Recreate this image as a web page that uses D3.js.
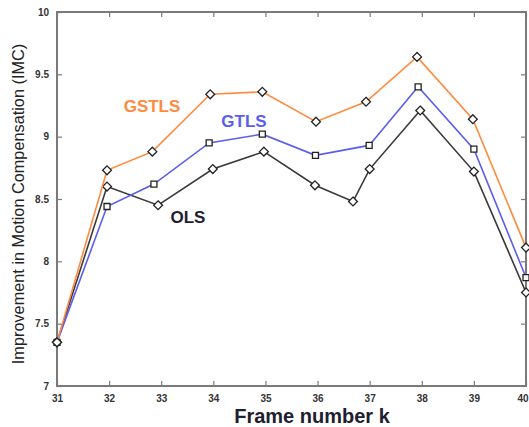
<!DOCTYPE html>
<html>
<head>
<meta charset="utf-8">
<script src="https://cdn.jsdelivr.net/npm/d3@7"></script>
<style>
  body { margin: 0; background: #fff; }
  text { font-family: "Liberation Sans", Arial, sans-serif; }
</style>
</head>
<body>
<div id="chart"></div>
<script>
// data
const xTicks = [31, 32, 33, 34, 35, 36, 37, 38, 39, 40]
const yTicks = [7, 7.5, 8, 8.5, 9, 9.5, 10]

const gstlsX = [31, 31.96, 32.83, 33.94, 34.94, 35.97, 36.93, 37.91, 38.98, 40]
const gstlsY = [7.35, 8.73, 8.88, 9.34, 9.36, 9.12, 9.28, 9.64, 9.14, 8.11]

const gtlsX = [31, 31.96, 32.86, 33.92, 34.94, 35.96, 36.99, 37.93, 39, 40]
const gtlsY = [7.35, 8.44, 8.62, 8.95, 9.02, 8.85, 8.93, 9.40, 8.90, 7.87]

const olsX = [31, 31.96, 32.94, 33.99, 34.97, 35.95, 36.68, 37.0, 37.97, 39, 40]
const olsY = [7.35, 8.60, 8.45, 8.74, 8.88, 8.61, 8.48, 8.74, 9.21, 8.72, 7.75]

const W = 529, H = 427
const M = { LEFT: 57, RIGHT: 3, TOP: 12, BOTTOM: 41 }
const WIDTH = W - M.LEFT - M.RIGHT
const HEIGHT = H - M.TOP - M.BOTTOM

const svg = d3.select("#chart").append("svg")
  .attr("width", W)
  .attr("height", H)

const g = svg.append("g")
  .attr("transform", `translate(${M.LEFT}, ${M.TOP})`)

const x = d3.scaleLinear().domain([31, 40]).range([0, WIDTH])
const y = d3.scaleLinear().domain([7, 10]).range([HEIGHT, 0])

// box
g.append("rect")
  .attr("width", WIDTH).attr("height", HEIGHT)
  .attr("fill", "none").attr("stroke", "#7a7a7a").attr("stroke-width", 2)

// axes (matlab-style inner ticks)
const xAxis = g.append("g").attr("transform", `translate(0, ${HEIGHT})`)
  .call(d3.axisBottom(x).tickValues(xTicks).tickSizeInner(-5).tickSizeOuter(0).tickPadding(9).tickFormat(d3.format("d")))
const xTop = g.append("g")
  .call(d3.axisTop(x).tickValues(xTicks).tickSizeInner(-5).tickSizeOuter(0).tickFormat(""))
const yAxis = g.append("g")
  .call(d3.axisLeft(y).tickValues(yTicks).tickSizeInner(-5).tickSizeOuter(0).tickPadding(8).tickFormat(d => d))
const yRight = g.append("g").attr("transform", `translate(${WIDTH}, 0)`)
  .call(d3.axisRight(y).tickValues(yTicks).tickSizeInner(-5).tickSizeOuter(0).tickFormat(""))

g.selectAll(".domain").remove()
g.selectAll(".tick line").attr("stroke", "#7a7a7a").attr("stroke-width", 1.2)
g.selectAll(".tick text")
  .attr("fill", "#333")
  .style("font-size", "10px")
  .style("font-weight", "bold")

// last x label sits at the right edge, keep it inside the window
xAxis.selectAll(".tick text").filter(d => d === 40).attr("text-anchor", "end").attr("dx", 2)

// series
const series = [
  { xs: olsX, ys: olsY, color: "#3a3a3a", marker: "diamond" },
  { xs: gtlsX, ys: gtlsY, color: "#5a5ef0", marker: "square" },
  { xs: gstlsX, ys: gstlsY, color: "#ff8a3d", marker: "diamond" }
]

const line = d3.line()
  .x(d => x(d[0]))
  .y(d => y(d[1]))

series.forEach(s => {
  const pts = s.xs.map((v, i) => [v, s.ys[i]])
  g.append("path")
    .attr("fill", "none")
    .attr("stroke", s.color)
    .attr("stroke-width", 1.6)
    .attr("d", line(pts))

  const sym = s.marker === "square"
    ? d3.symbol().type(d3.symbolSquare).size(36)
    : d3.symbol().type(d3.symbolDiamond2).size(50)

  g.selectAll(null).data(pts).enter().append("path")
    .attr("d", sym)
    .attr("transform", d => `translate(${x(d[0])}, ${y(d[1])})`)
    .attr("fill", "#fff")
    .attr("stroke", "#222")
    .attr("stroke-width", 1.3)
})

// series labels
g.append("text").attr("x", 152 - M.LEFT).attr("y", 112 - M.TOP)
  .attr("text-anchor", "middle").attr("fill", "#ff8a3d")
  .style("font-size", "17px").style("font-weight", "bold").text("GSTLS")
g.append("text").attr("x", 244 - M.LEFT).attr("y", 127 - M.TOP)
  .attr("text-anchor", "middle").attr("fill", "#5a5ef0")
  .style("font-size", "17px").style("font-weight", "bold").text("GTLS")
g.append("text").attr("x", 188 - M.LEFT).attr("y", 223 - M.TOP)
  .attr("text-anchor", "middle").attr("fill", "#1e2030")
  .style("font-size", "17px").style("font-weight", "bold").text("OLS")

// axis titles
svg.append("text")
  .attr("x", 312).attr("y", 423)
  .attr("text-anchor", "middle").attr("fill", "#1e2030")
  .style("font-size", "20px").style("font-weight", "bold")
  .text("Frame number k")

svg.append("text")
  .attr("transform", "rotate(-90)")
  .attr("x", -204).attr("y", 24)
  .attr("text-anchor", "middle").attr("fill", "#222")
  .style("font-size", "16.3px")
  .text("Improvement in Motion Compensation (IMC)")
</script>
</body>
</html>
